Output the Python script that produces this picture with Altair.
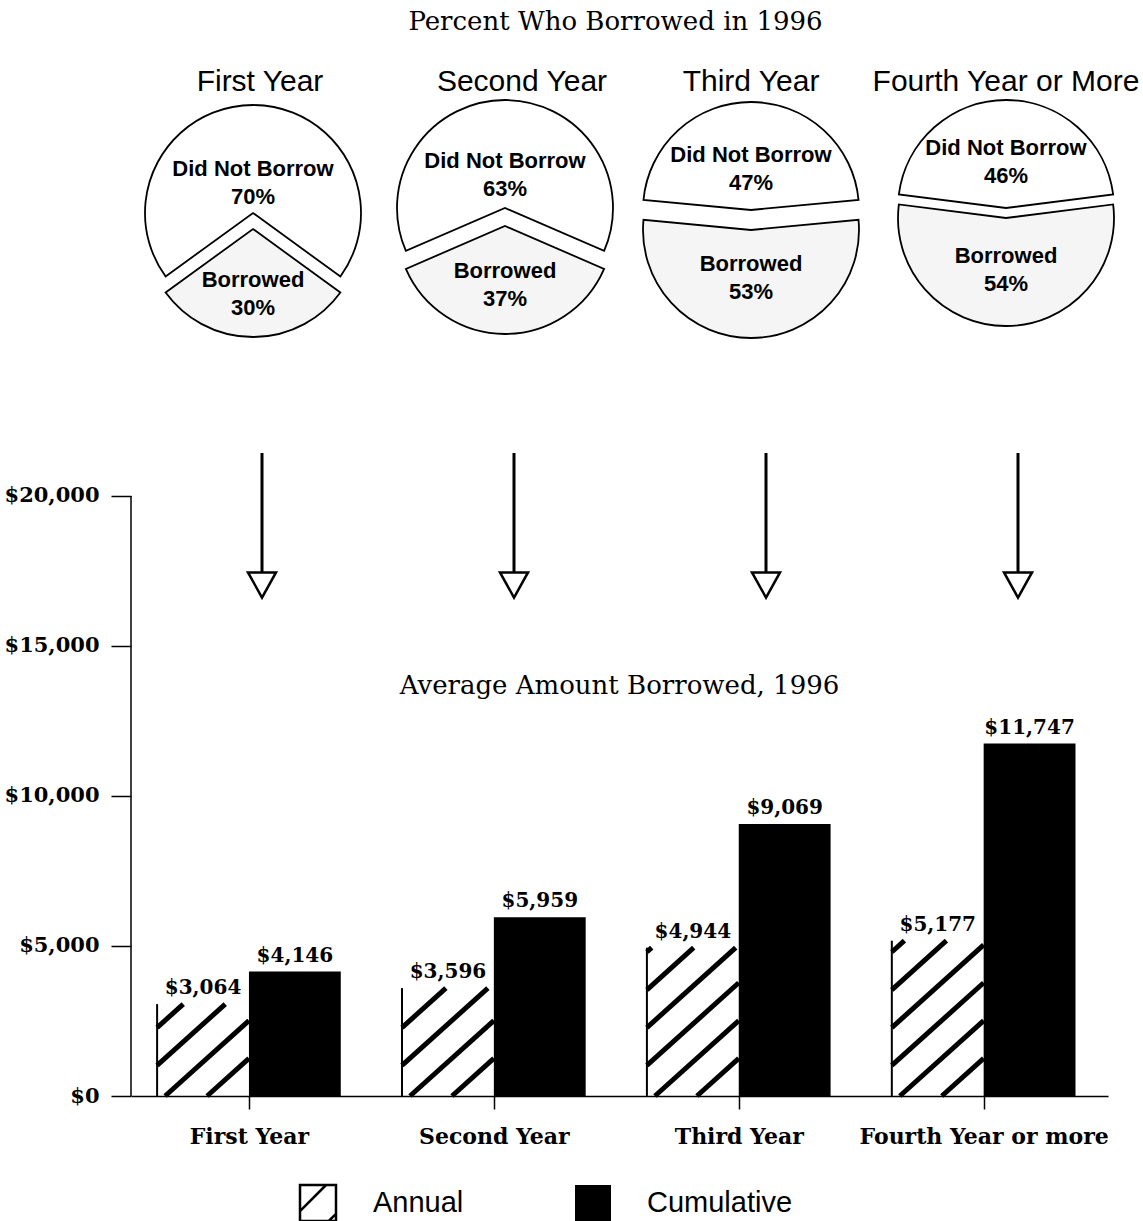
import json

import altair as alt
import pandas as pd

# ---- data -----------------------------------------------------------------
YEARS = ["First Year", "Second Year", "Third Year", "Fourth Year or more"]
PIE_TITLES = ["First Year", "Second Year", "Third Year", "Fourth Year or More"]
SLICES = ["Did Not Borrow", "Borrowed"]
DID_NOT_BORROW_PCT = [70, 63, 47, 46]
BORROWED_PCT = [30, 37, 53, 54]
SERIES = ["Annual", "Cumulative"]
ANNUAL = [3064, 3596, 4944, 5177]
CUMULATIVE = [4146, 5959, 9069, 11747]
Y_TICKS = [0, 5000, 10000, 15000, 20000]
TOP_TITLE = ["Percent Who Borrowed in 1996"]
MID_TITLE = ["Average Amount Borrowed, 1996"]

# ---- layout ---------------------------------------------------------------
SERIF = "DejaVu Serif"
SANS = "Liberation Sans"
LEFT, RIGHT, TOP, BOTTOM = 131, 35, 0, 125
W, H = 977, 1096
X_DOMAIN = [-0.4816, 3.5077]
Y_DOMAIN = [0, 36533]
PX_X = W / (X_DOMAIN[1] - X_DOMAIN[0])
PX_Y = H / (Y_DOMAIN[1] - Y_DOMAIN[0])
BW = 0.375                      # bar width, in category units
BAR_PX = BW * PX_X

# pie row (pixel positions inside the plot frame)
PIE_CX = [x - LEFT for x in (253, 505, 751, 1006)]
TITLE_CX = [x - LEFT for x in (260, 522, 751, 1006)]
PIE_CY = [221, 217, 220, 213]
EXPLODE = [8, 9, 10, 5]
PIE_R = 108
LABEL_LINE = 28
ARROW_X0, ARROW_STEP = 262 - LEFT, 252

HATCH_STEP = 42
HATCH_PHASE = 8
HATCH_SLOPE = 0.9

XS = alt.Scale(domain=X_DOMAIN, nice=False, zero=False)
YS = alt.Scale(domain=Y_DOMAIN, nice=False, zero=False)
THETA_S = alt.Scale(domain=[0, 100])

bars = pd.DataFrame({
    "idx": list(range(len(YEARS))) * 2,
    "year": YEARS * 2,
    "series": [SERIES[0]] * len(ANNUAL) + [SERIES[1]] * len(CUMULATIVE),
    "amount": ANNUAL + CUMULATIVE,
})
pies = pd.DataFrame({
    "idx": list(range(len(YEARS))) * 2,
    "slice": [SLICES[0]] * 4 + [SLICES[1]] * 4,
    "pct": DID_NOT_BORROW_PCT + BORROWED_PCT,
})
years = pd.DataFrame({"idx": list(range(len(YEARS))), "title": PIE_TITLES})

x_axis = alt.Axis(
    values=list(range(len(YEARS))),
    labelExpr=json.dumps(YEARS) + "[datum.value]",
    tickSize=13, tickWidth=1.5, domainWidth=1.5,
    labelPadding=17, labelFont=SERIF, labelFontSize=22, labelFontWeight="bold",
    labelLimit=500, labelFlush=False, labelOverlap=False, grid=False, title=None,
)
y_axis = alt.Axis(
    values=Y_TICKS, format="$,.0f", tickSize=20, tickWidth=1.5,
    labelPadding=12, labelFont=SERIF, labelFontSize=21, labelFontWeight="bold",
    domain=False, grid=False, title=None, labelOverlap=False,
)


def X(field):
    return alt.X(field, scale=XS, axis=x_axis)


def Y(field):
    return alt.Y(field, scale=YS, axis=y_axis)


# ---- bar chart ------------------------------------------------------------
bar_base = alt.Chart(bars).transform_calculate(
    bx0=f"datum.idx + (datum.series == '{SERIES[0]}' ? -{BW} : 0)",
    bx1=f"datum.bx0 + {BW}",
    bmid=f"datum.bx0 + {BW / 2}",
    base="0",
)

# diagonal hatching clipped to each annual bar
hatch = alt.Chart(bars).transform_filter(
    alt.datum.series == SERIES[0]
).transform_calculate(
    hpx=f"datum.amount * {PX_Y}",
    j="sequence(-8, 4)",
).transform_flatten(["j"]).transform_calculate(
    t=f"{HATCH_PHASE} + datum.j * {HATCH_STEP}",
    us="max(0, datum.t)",
    ue=f"min({BAR_PX}, datum.t + datum.hpx / {HATCH_SLOPE})",
).transform_filter("datum.ue > datum.us + 2").transform_calculate(
    hx0=f"datum.idx - {BW} + datum.us / {PX_X}",
    hx1=f"datum.idx - {BW} + datum.ue / {PX_X}",
    hy0=f"{HATCH_SLOPE} * (datum.us - datum.t) / {PX_Y}",
    hy1=f"{HATCH_SLOPE} * (datum.ue - datum.t) / {PX_Y}",
).mark_rule(color="black", strokeWidth=5, strokeCap="butt").encode(
    x=X("hx0:Q"), x2="hx1:Q", y=Y("hy0:Q"), y2="hy1:Q",
)

annual_edge = bar_base.transform_filter(alt.datum.series == SERIES[0]).mark_rule(
    color="black", strokeWidth=2
).encode(x=X("bx0:Q"), y=Y("amount:Q"), y2="base:Q")

cumulative = bar_base.transform_filter(alt.datum.series == SERIES[1]).mark_rect(
    fill="black", strokeWidth=0
).encode(x=X("bx0:Q"), x2="bx1:Q", y=Y("amount:Q"), y2="base:Q")

bar_labels = bar_base.mark_text(
    font=SERIF, fontSize=20, fontWeight="bold", baseline="alphabetic", dy=-10,
    color="black",
).encode(
    x=X("bmid:Q"), y=Y("amount:Q"),
    text=alt.Text("amount:Q", format="$,.0f"),
)

y_line = alt.Chart(pd.DataFrame({"lo": [Y_TICKS[0]], "hi": [Y_TICKS[-1]]})).mark_rule(
    color="black", strokeWidth=1.5
).encode(x=alt.value(0), y=Y("lo:Q"), y2="hi:Q")

# ---- exploded pies --------------------------------------------------------
pie_base = alt.Chart(pies).transform_calculate(
    mid=f"datum.slice == '{SLICES[1]}' ? 50 : 0",
    t0="datum.mid - datum.pct / 2",
    t1="datum.mid + datum.pct / 2",
    label="datum.slice + '\\n' + datum.pct + '%'",
)

pie_layers = []
for i in range(len(YEARS)):
    cx = PIE_CX[i]
    cy = PIE_CY[i]
    for s, fill, dy in ((SLICES[0], "white", -EXPLODE[i]),
                        (SLICES[1], "#f5f5f5", EXPLODE[i])):
        pie_layers.append(
            pie_base.transform_filter(
                (alt.datum.idx == i) & (alt.datum.slice == s)
            ).mark_arc(
                outerRadius=PIE_R, stroke="black", strokeWidth=1.8, fill=fill
            ).encode(
                x=alt.value(cx), y=alt.value(cy + dy),
                theta=alt.Theta("t0:Q", scale=THETA_S), theta2="t1:Q",
            )
        )
    # label heights follow the slice sizes; first line sits half a line up
    w_off = -(38 + 0.55 * (DID_NOT_BORROW_PCT[0] - DID_NOT_BORROW_PCT[i]))
    b_off = 73 - 0.65 * (BORROWED_PCT[i] - BORROWED_PCT[0])
    for s, off in ((SLICES[0], w_off), (SLICES[1], b_off)):
        pie_layers.append(
            pie_base.transform_filter(
                (alt.datum.idx == i) & (alt.datum.slice == s)
            ).mark_text(
                font=SANS, fontSize=22, fontWeight="bold", lineBreak="\n",
                lineHeight=LABEL_LINE, baseline="middle", color="black",
            ).encode(
                x=alt.value(cx), y=alt.value(cy + off - LABEL_LINE / 2),
                text="label:N",
            )
        )
    pie_layers.append(
        alt.Chart(years).transform_filter(alt.datum.idx == i).mark_text(
            font=SANS, fontSize=30, color="black"
        ).encode(x=alt.value(TITLE_CX[i]), y=alt.value(82), text="title:N")
    )
    # arrow from the pie down to the bars
    ax = ARROW_X0 + ARROW_STEP * i
    arrow_data = alt.Chart(years).transform_filter(alt.datum.idx == i)
    pie_layers.append(
        arrow_data.mark_rule(color="black", strokeWidth=3).encode(
            x=alt.value(ax), y=alt.value(453), y2=alt.value(574)
        )
    )
    pie_layers.append(
        arrow_data.mark_point(
            shape="M-1,-0.9L1,-0.9L0,0.9Z", size=784, filled=True, fill="white",
            stroke="black", strokeWidth=2.5, opacity=1,
        ).encode(x=alt.value(ax), y=alt.value(585))
    )

# ---- titles ---------------------------------------------------------------
top_title = alt.Chart(pd.DataFrame({"t": TOP_TITLE})).mark_text(
    font=SERIF, fontSize=26, color="black"
).encode(x=alt.value(W / 2 - 4), y=alt.value(22), text="t:N")

mid_title = alt.Chart(pd.DataFrame({"t": MID_TITLE})).mark_text(
    font=SERIF, fontSize=26, color="black"
).encode(x=alt.value(W / 2), y=alt.value(686), text="t:N")

# ---- legend ---------------------------------------------------------------
LEG_Y = 1203
leg_hatch = alt.Chart(pd.DataFrame({"s": SERIES[:1]})).mark_point(
    shape="M-1,-1L1,-1L1,1L-1,1Z M-1,0.45L0.45,-1 M0.6,1L1,0.6",
    size=1296, filled=False, stroke="black", strokeWidth=2.5, opacity=1,
).encode(x=alt.value(187), y=alt.value(LEG_Y))
leg_solid = alt.Chart(pd.DataFrame({"s": SERIES[1:]})).mark_square(
    size=1296, color="black", opacity=1
).encode(x=alt.value(462), y=alt.value(LEG_Y))
leg_text_a = alt.Chart(pd.DataFrame({"s": SERIES[:1]})).mark_text(
    font=SANS, fontSize=29, align="left", baseline="middle", color="black"
).encode(x=alt.value(242), y=alt.value(LEG_Y), text="s:N")
leg_text_c = alt.Chart(pd.DataFrame({"s": SERIES[1:]})).mark_text(
    font=SANS, fontSize=29, align="left", baseline="middle", color="black"
).encode(x=alt.value(516), y=alt.value(LEG_Y), text="s:N")

chart = alt.layer(
    cumulative, hatch, annual_edge, bar_labels, y_line,
    *pie_layers, top_title, mid_title,
    leg_hatch, leg_solid, leg_text_a, leg_text_c,
).properties(
    width=W, height=H,
    padding={"left": LEFT, "right": RIGHT, "top": TOP, "bottom": BOTTOM},
    autosize=alt.AutoSizeParams(type="none"),
    background="white",
).configure_view(stroke=None).configure_axis(
    labelColor="black", tickColor="black", domainColor="black",
)

chart.save("out.html", embed_options={"renderer": "svg", "actions": False})
